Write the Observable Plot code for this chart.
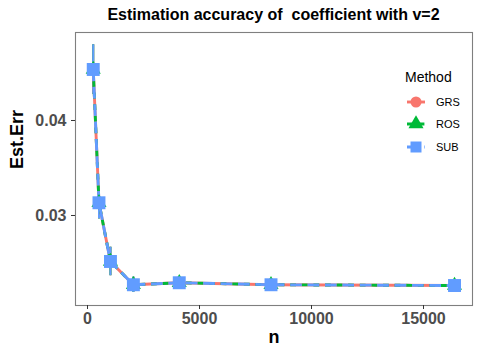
<!DOCTYPE html>
<html><head><meta charset="utf-8">
<script src="https://cdn.jsdelivr.net/npm/d3@7"></script>
<script src="https://cdn.jsdelivr.net/npm/@observablehq/plot@0.6"></script>
<style>
body{margin:0;background:#fff;font-family:"Liberation Sans",Arial,sans-serif;}
#wrap{position:relative;width:480px;height:360px;}
#title{height:31px;box-sizing:border-box;padding-top:6px;padding-left:67px;text-align:center;font-weight:bold;font-size:16px;line-height:18px;color:#000;white-space:pre;}
</style></head><body>
<div id="wrap"><div id="title">Estimation accuracy of  coefficient with v=2</div><div id="chart"></div></div>
<script>
const methods = ["GRS", "ROS", "SUB"];
const colors = ["#F8766D", "#00BA38", "#619CFF"];
const nValues = [256, 512, 1024, 2048, 4096, 8192, 16384];
const errGRS = [0.04537, 0.03134, 0.02516, 0.02271, 0.02292, 0.02271, 0.02263];
const errROS = [0.04537, 0.03134, 0.02516, 0.02271, 0.02292, 0.02271, 0.02263];
const errSUB = [0.04537, 0.03134, 0.02516, 0.02271, 0.02292, 0.02271, 0.02263];
const sdGRS = [0.0026, 0.0017, 0.0015, 0.0008, 0.0004, 0.0003, 0.0003];
const sdROS = [0.0026, 0.0017, 0.0015, 0.0008, 0.0004, 0.0003, 0.0003];
const sdSUB = [0.0026, 0.0017, 0.0015, 0.0008, 0.0004, 0.0003, 0.0003];
const xTicks = [0, 5000, 10000, 15000];
const yTicks = [0.03, 0.04];

const errs = {GRS: errGRS, ROS: errROS, SUB: errSUB};
const sds = {GRS: sdGRS, ROS: sdROS, SUB: sdSUB};
const data = methods.flatMap(m => nValues.map((n, i) => ({method: m, n, err: errs[m][i], sd: sds[m][i]})));
const color = Object.fromEntries(methods.map((m, i) => [m, colors[i]]));
const dash = {GRS: null, ROS: "5.8,5.8", SUB: "11.6,5.8"};
const symbols = {GRS: "circle", ROS: "triangle", SUB: "square"};
const radius = {GRS: 5, ROS: 5.6, SUB: 7.3};
const legendRadius = {GRS: 5.5, ROS: 5.6, SUB: 6.2};

const marks = [];
for (const m of methods) {
  const d = data.filter(r => r.method === m);
  marks.push(Plot.ruleX(d, {x: "n", y1: r => r.err - r.sd, y2: r => r.err + r.sd, stroke: color[m], strokeWidth: 2}));
}
for (const m of methods) {
  const d = data.filter(r => r.method === m);
  marks.push(Plot.line(d, {x: "n", y: "err", stroke: color[m], strokeWidth: 2.9, strokeDasharray: dash[m], strokeLinecap: "butt", strokeLinejoin: "round"}));
}
for (const m of methods) {
  const d = data.filter(r => r.method === m);
  marks.push(Plot.dot(d, {x: "n", y: "err", fill: color[m], stroke: "none", symbol: symbols[m], r: radius[m]}));
}

const plot = Plot.plot({
  width: 480, height: 329,
  marginLeft: 75, marginRight: 8, marginTop: 1, marginBottom: 55,
  style: {fontFamily: "'Liberation Sans', Arial, sans-serif", background: "#fff"},
  x: {domain: [-536, 17187]},
  y: {domain: [0.020526, 0.049263]},
  marks: [
    Plot.frame({stroke: "#7f7f7f", strokeWidth: 1.1}),
    Plot.axisX({ticks: xTicks, tickSize: 4, tickPadding: 3, tickFormat: d3.format("d"), fontSize: 16, fontWeight: "bold", fill: "#4D4D4D", stroke: "#333", label: null}),
    Plot.axisY({ticks: yTicks, tickSize: 4, tickPadding: 5, tickFormat: d3.format(".2f"), fontSize: 16, fontWeight: "bold", fill: "#4D4D4D", stroke: "#333", label: null}),
    Plot.text(["Est.Err"], {frameAnchor: "left", dx: -58, rotate: -90, fontSize: 18, fontWeight: "bold", fill: "#000", text: d => d}),
    Plot.text(["n"], {frameAnchor: "bottom", dy: 37, fontSize: 18, fontWeight: "bold", fill: "#000", text: d => d}),
    ...marks
  ]
});
document.getElementById("chart").appendChild(plot);

// legend
const svg = d3.select(plot);
const lg = svg.append("g").attr("font-family", "'Liberation Sans', Arial, sans-serif").attr("text-anchor", "start");
lg.append("text").attr("x", 405).attr("y", 51).attr("font-size", 14).attr("fill", "#000").text("Method");
const ly = [71, 93, 116];
const symMap = {circle: d3.symbolCircle, triangle: d3.symbolTriangle, square: d3.symbolSquare};
methods.forEach((m, i) => {
  const g = lg.append("g").attr("transform", `translate(0,${ly[i]})`);
  g.append("line").attr("x1", 407).attr("x2", 425).attr("y1", 0).attr("y2", 0)
    .attr("stroke", color[m]).attr("stroke-width", 2.9).attr("stroke-dasharray", dash[m]);
  const r = legendRadius[m];
  g.append("path").attr("transform", "translate(416,0)")
    .attr("d", d3.symbol(symMap[symbols[m]], r * r * Math.PI)())
    .attr("fill", color[m]);
  g.append("text").attr("x", 436).attr("y", 0).attr("dy", "0.35em").attr("font-size", 11).attr("fill", "#000").text(m);
});
</script>
</body></html>
